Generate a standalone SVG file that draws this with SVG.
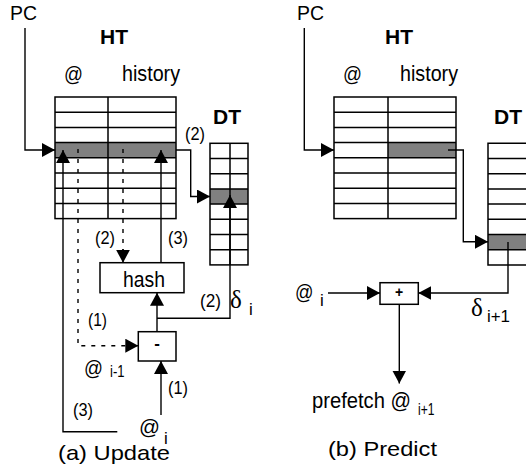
<svg xmlns="http://www.w3.org/2000/svg" width="526" height="469" viewBox="0 0 526 469">
<defs>
<marker id="arr" markerUnits="userSpaceOnUse" markerWidth="14" markerHeight="14" refX="13" refY="7" orient="auto">
<path d="M0,0 L13,7 L0,14 z" fill="#000"/>
</marker>
</defs>
<style>
text{font-family:"Liberation Sans",Arial,sans-serif;fill:#000}
.t{font-size:21px}
.b{font-size:21px;font-weight:bold}
.s{font-size:18.5px}
.sub{font-size:17px}
.d{font-family:"Liberation Serif","Times New Roman",serif;font-size:25px}
.grid{stroke:#000;stroke-width:1.5;fill:none}
.box{stroke:#000;stroke-width:1.5;fill:#fff}
.sh{fill:#808080}
.c{stroke:#000;stroke-width:1.4;fill:none}
.dash{stroke:#000;stroke-width:1.4;fill:none;stroke-dasharray:4,6}
.a{marker-end:url(#arr)}
</style>
<rect width="526" height="469" fill="#fff"/>

<!-- (a) Update -->
<g id="ht-a">
<rect class="sh" x="55" y="142.6" width="121" height="15.2"/>
<rect class="grid" x="55" y="97" width="121" height="121.6"/>
<path class="grid" d="M108,97V218.6 M55,112.2H176 M55,127.4H176 M55,142.6H176 M55,157.8H176 M55,173H176 M55,188.2H176 M55,203.4H176"/>
<text class="b" x="100" y="44">HT</text>
<text class="t" x="64" y="81" textLength="19" lengthAdjust="spacingAndGlyphs">@</text>
<text class="t" x="122" y="81" style="font-size:22px" textLength="58" lengthAdjust="spacingAndGlyphs">history</text>
</g>
<g id="dt-a">
<rect class="sh" x="210" y="188.9" width="38" height="15.2"/>
<rect class="grid" x="210" y="143.3" width="38" height="121.6"/>
<path class="grid" d="M230,143.3V264.9 M210,158.5H248 M210,173.7H248 M210,188.9H248 M210,204.1H248 M210,219.3H248 M210,234.5H248 M210,249.7H248"/>
<text class="b" x="213" y="124">DT</text>
</g>
<g id="hash">
<rect class="box" x="100" y="262.7" width="84" height="30"/>
<text class="t" x="123" y="287" style="font-size:22px" textLength="42" lengthAdjust="spacingAndGlyphs">hash</text>
</g>
<g id="minus">
<rect class="box" x="138.3" y="331.7" width="37.7" height="29.3"/>
<text class="b" x="157" y="349" text-anchor="middle" style="font-size:17px">-</text>
</g>

<!-- (b) Predict -->
<g id="ht-b">
<rect class="sh" x="388" y="142.6" width="68" height="15.2"/>
<rect class="grid" x="334" y="97" width="122" height="121.6"/>
<path class="grid" d="M388,97V218.6 M334,112.2H456 M334,127.4H456 M334,142.6H456 M334,157.8H456 M334,173H456 M334,188.2H456 M334,203.4H456"/>
<text class="b" x="385" y="44">HT</text>
<text class="t" x="343" y="81" textLength="19" lengthAdjust="spacingAndGlyphs">@</text>
<text class="t" x="400" y="81" style="font-size:22px" textLength="58" lengthAdjust="spacingAndGlyphs">history</text>
</g>
<g id="dt-b">
<rect class="sh" x="488" y="234.5" width="50" height="15.2"/>
<path class="grid" d="M540,143.3H488V264.9H540 M488,158.5H540 M488,173.7H540 M488,188.9H540 M488,204.1H540 M488,219.3H540 M488,234.5H540 M488,249.7H540"/>
<text class="b" x="494" y="124">DT</text>
</g>
<g id="plus">
<rect class="box" x="380" y="282.7" width="38.3" height="21.6"/>
<text class="b" x="399" y="297" text-anchor="middle" style="font-size:14px">+</text>
</g>

<g id="connectors">
<!-- left -->
<path class="c a" d="M25,28V150H55"/>
<path class="c a" d="M176,150H190.7V196.5H210"/>
<path class="dash" d="M78,149V345.7H126"/>
<path class="c a" d="M126,345.7H138.3"/>
<path class="dash" d="M123,149V250"/>
<path class="c a" d="M123,249V262.7"/>
<path class="c a" d="M161,262.7V150"/>
<path class="c a" d="M117.3,431.7H63V150"/>
<path class="c a" d="M157,331.7V292.7"/>
<path class="c a" d="M157,318.3H230V195"/>
<path class="c a" d="M161,415V361"/>
<!-- right -->
<path class="c a" d="M304.3,28V150H334"/>
<path class="c a" d="M448,150H463.3V241.8H488"/>
<path class="c a" d="M508,242V293H418.3"/>
<path class="c a" d="M328,293H380"/>
<path class="c a" d="M399.3,304.3V383.5"/>
</g>

<g id="labels">
<text class="t" x="10" y="20" textLength="27" lengthAdjust="spacingAndGlyphs">PC</text>
<text class="t" x="297" y="20" textLength="27" lengthAdjust="spacingAndGlyphs">PC</text>
<text class="s" x="185" y="140" textLength="20" lengthAdjust="spacingAndGlyphs">(2)</text>
<text class="s" x="95" y="244" textLength="20" lengthAdjust="spacingAndGlyphs">(2)</text>
<text class="s" x="168" y="244" textLength="20" lengthAdjust="spacingAndGlyphs">(3)</text>
<text class="s" x="200" y="307" textLength="21" lengthAdjust="spacingAndGlyphs">(2)</text>
<text class="d" x="230" y="308">δ</text>
<text class="sub" x="249" y="315">i</text>
<text class="s" x="88" y="326" textLength="19" lengthAdjust="spacingAndGlyphs">(1)</text>
<text class="t" x="84" y="375" textLength="19" lengthAdjust="spacingAndGlyphs">@</text>
<text class="sub" x="110" y="377" textLength="14.5" lengthAdjust="spacingAndGlyphs">i-1</text>
<text class="s" x="168" y="394" textLength="20" lengthAdjust="spacingAndGlyphs">(1)</text>
<text class="s" x="73" y="416" textLength="20" lengthAdjust="spacingAndGlyphs">(3)</text>
<text class="t" x="139" y="434" textLength="21" lengthAdjust="spacingAndGlyphs">@</text>
<text class="sub" x="164" y="444">i</text>
<text class="t" x="58" y="460" textLength="112" lengthAdjust="spacingAndGlyphs">(a) Update</text>
<text class="t" x="295" y="299" textLength="18.5" lengthAdjust="spacingAndGlyphs">@</text>
<text class="sub" x="320" y="306">i</text>
<text class="d" x="471" y="316">δ</text>
<text class="sub" x="487" y="322" textLength="23" lengthAdjust="spacingAndGlyphs">i+1</text>
<text class="t" x="312" y="408" style="font-size:22px" textLength="99" lengthAdjust="spacingAndGlyphs">prefetch @</text>
<text class="sub" x="418" y="415" textLength="16.5" lengthAdjust="spacingAndGlyphs">i+1</text>
<text class="t" x="328" y="456" textLength="109" lengthAdjust="spacingAndGlyphs">(b) Predict</text>
</g>
</svg>
